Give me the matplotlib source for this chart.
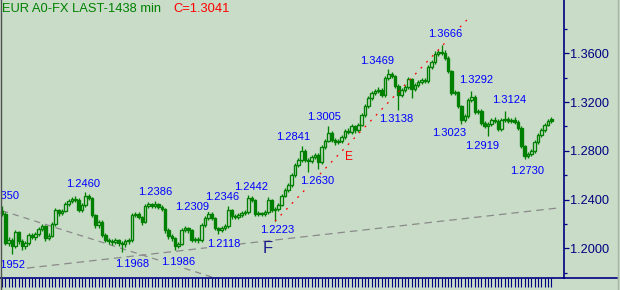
import matplotlib
matplotlib.use("Agg")
import matplotlib.pyplot as plt
from matplotlib.lines import Line2D
import numpy as np

plt.rcParams['font.family'] = ['Liberation Sans', 'DejaVu Sans']

# ---------------- data ----------------
opens = [
    1.2307, 1.2282, 1.2044, 1.2069, 1.2020, 1.2135, 1.2061, 1.2020, 1.2044, 1.2110,
    1.2094, 1.2118, 1.2159, 1.2184, 1.2086, 1.2102, 1.2200, 1.2315, 1.2290, 1.2307,
    1.2364, 1.2389, 1.2405, 1.2397, 1.2315, 1.2356, 1.2430, 1.2413, 1.2274, 1.2192,
    1.2217, 1.2110, 1.2069, 1.2061, 1.2053, 1.2069, 1.2044, 1.2036, 1.2061, 1.2069,
    1.2274, 1.2282, 1.2258, 1.2217, 1.2348, 1.2364, 1.2348, 1.2364, 1.2340, 1.2323,
    1.2151, 1.2102, 1.2086, 1.2020, 1.2036, 1.2151, 1.2167, 1.2151, 1.2069, 1.2077,
    1.2069, 1.2192, 1.2249, 1.2282, 1.2249, 1.2167, 1.2151, 1.2167, 1.2184, 1.2315,
    1.2266, 1.2258, 1.2274, 1.2290, 1.2299, 1.2413, 1.2397, 1.2282, 1.2290, 1.2282,
    1.2299, 1.2397, 1.2315, 1.2323, 1.2356, 1.2430, 1.2479, 1.2520, 1.2602, 1.2684,
    1.2725, 1.2799, 1.2725, 1.2717, 1.2749, 1.2766, 1.2709, 1.2832, 1.2881, 1.2946,
    1.2889, 1.2873, 1.2881, 1.2914, 1.2963, 1.2955, 1.3004, 1.2971, 1.3012, 1.3094,
    1.3168, 1.3233, 1.3274, 1.3291, 1.3299, 1.3258, 1.3397, 1.3430, 1.3414, 1.3332,
    1.3258, 1.3299, 1.3324, 1.3389, 1.3307, 1.3340, 1.3365, 1.3381, 1.3373, 1.3488,
    1.3529, 1.3594, 1.3611, 1.3602, 1.3561, 1.3455, 1.3274, 1.3283, 1.3168, 1.3053,
    1.3086, 1.3217, 1.3242, 1.3119, 1.3127, 1.3028, 1.3004, 1.3020, 1.3053, 1.3045,
    1.2979, 1.3053, 1.3061, 1.3045, 1.3053, 1.3037, 1.2987, 1.2840, 1.2757, 1.2774,
    1.2799, 1.2873, 1.2930, 1.2971, 1.3012, 1.3061,
]
closes = [
    1.2282, 1.2044, 1.2069, 1.2020, 1.2135, 1.2061, 1.2020, 1.2044, 1.2110, 1.2094,
    1.2118, 1.2159, 1.2184, 1.2086, 1.2102, 1.2200, 1.2315, 1.2290, 1.2307, 1.2364,
    1.2389, 1.2405, 1.2397, 1.2315, 1.2356, 1.2430, 1.2413, 1.2274, 1.2192, 1.2217,
    1.2110, 1.2069, 1.2061, 1.2053, 1.2069, 1.2044, 1.2036, 1.2061, 1.2069, 1.2274,
    1.2282, 1.2258, 1.2217, 1.2348, 1.2364, 1.2348, 1.2364, 1.2340, 1.2323, 1.2151,
    1.2102, 1.2086, 1.2020, 1.2036, 1.2151, 1.2167, 1.2151, 1.2069, 1.2077, 1.2069,
    1.2192, 1.2249, 1.2282, 1.2249, 1.2167, 1.2151, 1.2167, 1.2184, 1.2315, 1.2266,
    1.2258, 1.2274, 1.2290, 1.2299, 1.2413, 1.2397, 1.2282, 1.2290, 1.2282, 1.2299,
    1.2397, 1.2315, 1.2323, 1.2356, 1.2430, 1.2479, 1.2520, 1.2602, 1.2684, 1.2725,
    1.2799, 1.2725, 1.2717, 1.2749, 1.2766, 1.2709, 1.2832, 1.2881, 1.2946, 1.2889,
    1.2873, 1.2881, 1.2914, 1.2963, 1.2955, 1.3004, 1.2971, 1.3012, 1.3094, 1.3168,
    1.3233, 1.3274, 1.3291, 1.3299, 1.3258, 1.3397, 1.3430, 1.3414, 1.3332, 1.3258,
    1.3299, 1.3324, 1.3389, 1.3307, 1.3340, 1.3365, 1.3381, 1.3373, 1.3488, 1.3529,
    1.3594, 1.3611, 1.3602, 1.3561, 1.3455, 1.3274, 1.3283, 1.3168, 1.3053, 1.3086,
    1.3217, 1.3242, 1.3119, 1.3127, 1.3028, 1.3004, 1.3020, 1.3053, 1.3045, 1.2979,
    1.3053, 1.3061, 1.3045, 1.3053, 1.3037, 1.2987, 1.2840, 1.2757, 1.2774, 1.2799,
    1.2873, 1.2930, 1.2971, 1.3012, 1.3045, 1.3041,
]
highs = [
    1.2350, 1.2295, 1.2090, 1.2082, 1.2150, 1.2143, 1.2075, 1.2060, 1.2125, 1.2130,
    1.2135, 1.2175, 1.2200, 1.2195, 1.2125, 1.2215, 1.2330, 1.2325, 1.2325, 1.2380,
    1.2405, 1.2425, 1.2430, 1.2410, 1.2375, 1.2460, 1.2450, 1.2425, 1.2285, 1.2235,
    1.2230, 1.2125, 1.2085, 1.2075, 1.2085, 1.2080, 1.2060, 1.2075, 1.2085, 1.2290,
    1.2300, 1.2295, 1.2265, 1.2365, 1.2380, 1.2375, 1.2386, 1.2375, 1.2360, 1.2335,
    1.2165, 1.2120, 1.2095, 1.2055, 1.2165, 1.2185, 1.2180, 1.2160, 1.2095, 1.2090,
    1.2205, 1.2265, 1.2309, 1.2295, 1.2260, 1.2180, 1.2185, 1.2200, 1.2346, 1.2325,
    1.2280, 1.2290, 1.2305, 1.2315, 1.2442, 1.2430, 1.2405, 1.2305, 1.2300, 1.2315,
    1.2420, 1.2405, 1.2340, 1.2370, 1.2445, 1.2495, 1.2540, 1.2615, 1.2700, 1.2745,
    1.2841, 1.2815, 1.2740, 1.2765, 1.2785, 1.2780, 1.2850, 1.2900, 1.3005, 1.2960,
    1.2905, 1.2895, 1.2930, 1.2980, 1.2985, 1.3020, 1.3015, 1.3030, 1.3110, 1.3185,
    1.3250, 1.3295, 1.3310, 1.3320, 1.3315, 1.3415, 1.3469, 1.3450, 1.3425, 1.3345,
    1.3315, 1.3340, 1.3405, 1.3400, 1.3355, 1.3380, 1.3395, 1.3395, 1.3505, 1.3545,
    1.3615, 1.3630, 1.3666, 1.3625, 1.3575, 1.3465, 1.3300, 1.3295, 1.3180, 1.3100,
    1.3235, 1.3292, 1.3255, 1.3145, 1.3140, 1.3045, 1.3035, 1.3070, 1.3080, 1.3060,
    1.3070, 1.3124, 1.3080, 1.3070, 1.3075, 1.3050, 1.3000, 1.2850, 1.2790, 1.2815,
    1.2890, 1.2945, 1.2990, 1.3030, 1.3065, 1.3075,
]
lows = [
    1.2266, 1.2028, 1.2020, 1.1952, 1.2005, 1.2040, 1.1990, 1.1995, 1.2030, 1.2075,
    1.2070, 1.2100, 1.2140, 1.2065, 1.2070, 1.2090, 1.2185, 1.2270, 1.2275, 1.2295,
    1.2350, 1.2375, 1.2380, 1.2300, 1.2300, 1.2340, 1.2395, 1.2255, 1.2170, 1.2165,
    1.2090, 1.2050, 1.2040, 1.2030, 1.2035, 1.2020, 1.1968, 1.2010, 1.2040, 1.2055,
    1.2255, 1.2240, 1.2195, 1.2205, 1.2330, 1.2330, 1.2335, 1.2320, 1.2305, 1.2130,
    1.2080, 1.2060, 1.1986, 1.2000, 1.2025, 1.2135, 1.2130, 1.2050, 1.2050, 1.2045,
    1.2055, 1.2180, 1.2235, 1.2230, 1.2150, 1.2118, 1.2135, 1.2150, 1.2170, 1.2245,
    1.2240, 1.2245, 1.2260, 1.2275, 1.2285, 1.2380, 1.2265, 1.2265, 1.2265, 1.2270,
    1.2285, 1.2295, 1.2223, 1.2310, 1.2345, 1.2420, 1.2465, 1.2505, 1.2590, 1.2670,
    1.2710, 1.2705, 1.2630, 1.2700, 1.2735, 1.2650, 1.2695, 1.2815, 1.2870, 1.2870,
    1.2850, 1.2855, 1.2865, 1.2900, 1.2940, 1.2940, 1.2950, 1.2955, 1.3000, 1.3080,
    1.3155, 1.3220, 1.3260, 1.3275, 1.3240, 1.3245, 1.3380, 1.3395, 1.3315, 1.3138,
    1.3240, 1.3285, 1.3310, 1.3230, 1.3290, 1.3325, 1.3350, 1.3355, 1.3360, 1.3475,
    1.3515, 1.3580, 1.3585, 1.3545, 1.3440, 1.3255, 1.3260, 1.3150, 1.3023, 1.3040,
    1.3070, 1.3200, 1.3100, 1.3105, 1.3010, 1.2985, 1.2919, 1.3005, 1.3025, 1.2960,
    1.2965, 1.3040, 1.3025, 1.3030, 1.3020, 1.2970, 1.2820, 1.2730, 1.2740, 1.2760,
    1.2785, 1.2860, 1.2915, 1.2955, 1.3000, 1.3030,
]

# pivot labels: bar index and value
pivot_bars = [0, 3, 25, 36, 46, 52, 62, 65, 68, 74, 82, 90, 92, 98,
              116, 119, 132, 138, 141, 146, 151, 157]
pivot_values = [1.2350, 1.1952, 1.2460, 1.1968, 1.2386, 1.1986, 1.2309, 1.2118,
                1.2346, 1.2442, 1.2223, 1.2841, 1.2630, 1.3005, 1.3469, 1.3138,
                1.3666, 1.3023, 1.3292, 1.2919, 1.3124, 1.2730]

y_ticks = [1.2000, 1.2400, 1.2800, 1.3200, 1.3600]
y_minor = [1.1800, 1.2200, 1.2600, 1.3000, 1.3400, 1.3800]

# trend lines (bar index, price)
gray_line1 = ([0, 70], [1.2310, 1.1706])
gray_line2 = ([7.5, 166.7], [1.1839, 1.2331])
red_line = ([82, 139.6], [1.2223, 1.3873])

title_left = "EUR A0-FX LAST-1438 min"
title_right = "C=1.3041"

# ---------------- style ----------------
BG = '#c8dcc8'
GREEN = '#008000'
NAVY = '#000080'
BLUE = '#0000ff'
W, H = 620, 290

# label pixel offsets (dx, dy) relative to pivot
label_offsets = [(0.5, 10), (-3.5, -11), (-2, 8), (10, -12), (0.5, 9.5), (3.5, -12),
                 (-16.5, 3.5), (5, -10), (-6.5, 9.5), (3, 8), (2.5, -9), (-9, 9),
                 (9, -9.5), (-4.5, 8.5), (-11.5, 8), (-2.5, -9.5), (4, 11), (-12, -9.5),
                 (5, 11), (-6.5, -9.5), (4.5, 11), (2.5, -11.5)]

fig = plt.figure(figsize=(W / 100, H / 100), dpi=100)
fig.patch.set_facecolor(BG)
ax_bottom_px = 277.5
ax_right_px = 563.7
ax = fig.add_axes([0, (H - ax_bottom_px) / H, ax_right_px / W, ax_bottom_px / H])
ax.set_facecolor(BG)

o = np.array(opens); c = np.array(closes); hi = np.array(highs); lo = np.array(lows)
idx = np.arange(len(c))
ax.set_xlim(-0.6, 168.7)
ax.set_ylim(1.1762, 1.4037)

# trend lines
ax.plot(*gray_line1, color='#8a8a8a', lw=0.9, ls=(0, (5, 4)), zorder=1)
ax.plot(*gray_line2, color='#8a8a8a', lw=0.9, ls=(0, (6, 4)), zorder=1)
ax.plot(*red_line, color='#ff0000', lw=0.9, ls=(0, (1.5, 5)), zorder=4)

# candles
up = c >= o
ax.vlines(idx, lo, hi, color=GREEN, lw=0.95, zorder=2)
ax.bar(idx[up], (c - o)[up], bottom=o[up], width=0.78, facecolor=BG,
       edgecolor=GREEN, lw=0.95, zorder=3)
ax.bar(idx[~up], (o - c)[~up], bottom=c[~up], width=0.78, facecolor=GREEN,
       edgecolor=GREEN, lw=0.95, zorder=3)

# pivot labels
for b, v, (dx, dy) in zip(pivot_bars, pivot_values, label_offsets):
    ax.annotate(f"{v:.4f}", xy=(b, v), xytext=(dx, dy), textcoords='offset pixels',
                ha='center', va='center', fontsize=8, color=BLUE, zorder=5,
                bbox=dict(boxstyle='square,pad=0', facecolor=BG, edgecolor='none'))

ax.text(104.2, 1.2750, "E", color='#ff0000', fontsize=8.5, ha='center', va='center', zorder=5)
ax.text(79.9, 1.2003, "F", color='#1a1a90', fontsize=12, ha='center', va='center', zorder=5)

# axes styling
for s in ['top', 'left']:
    ax.spines[s].set_visible(False)
ax.spines['right'].set_color(NAVY)
ax.spines['right'].set_linewidth(1.2)
ax.spines['bottom'].set_color(NAVY)
ax.spines['bottom'].set_linewidth(1.2)

ax.yaxis.tick_right()
ax.set_yticks(y_ticks)
ax.set_yticklabels([f"{t:.4f}" for t in y_ticks])
ax.set_yticks(y_minor, minor=True)
ax.tick_params(axis='y', which='major', direction='out', length=3.8, width=0.9,
               color=NAVY, labelcolor=NAVY, labelsize=9.2, pad=0.5)
ax.tick_params(axis='y', which='minor', direction='out', length=2, width=0.9, color=NAVY)
ax.set_xticks(idx)
ax.set_xticklabels([])
ax.tick_params(axis='x', which='major', direction='out', length=6.5, width=0.8,
               color=NAVY)
ax.tick_params(axis='x', which='minor', bottom=False)

# extension of bottom line and frame borders
yb = (H - ax_bottom_px) / H
fig.add_artist(Line2D([ax_right_px / W, 617 / W], [yb, yb], color=NAVY, lw=1.2))
fig.add_artist(Line2D([0.5 / W, 0.5 / W], [0, 1], color='#505050', lw=1))
fig.add_artist(Line2D([617.5 / W, 617.5 / W], [0, 1], color='#a8b4a8', lw=1))

# title
fig.text(2 / W, 1 - 9.5 / H, title_left, color=GREEN, fontsize=9.3, ha='left', va='center')
fig.text(173 / W, 1 - 9.5 / H, title_right, color='#ff0000', fontsize=9.3, ha='left', va='center')

fig.savefig("out.png", dpi=100, facecolor=BG)
